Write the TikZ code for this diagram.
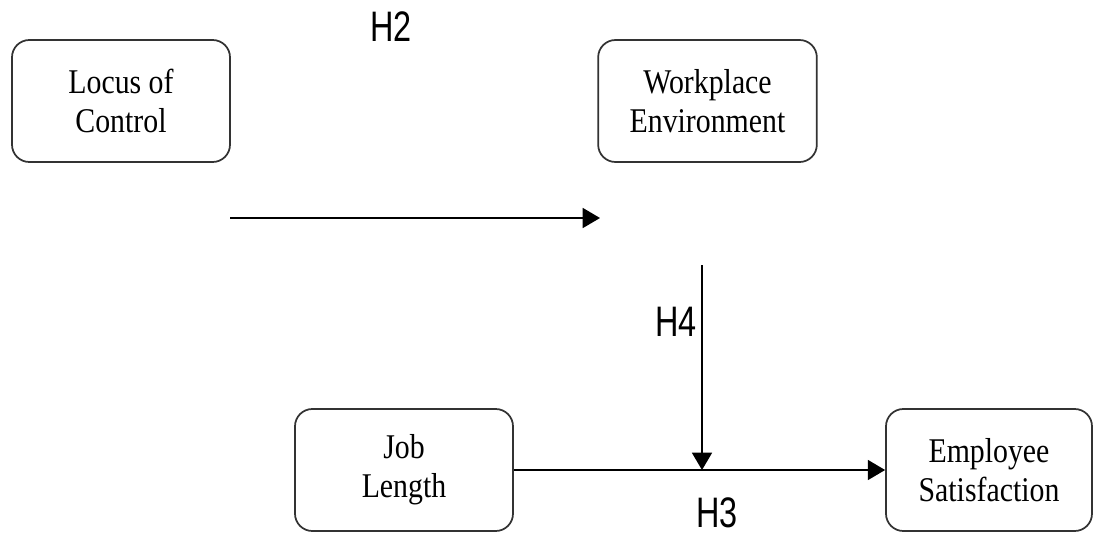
\documentclass[tikz,border=0pt]{standalone}
\usepackage{fontspec}
\setmainfont[FakeStretch=0.86]{Liberation Serif}
\newfontfamily\hfont[FakeStretch=0.76]{Liberation Sans}
\usetikzlibrary{arrows.meta}

\begin{document}
\begin{tikzpicture}[x=0.75pt,y=-0.75pt,
  varbox/.style={draw=black!80,line width=1.3pt,rounded corners=13pt,
    align=center,inner sep=0pt,minimum height=91.5pt,
    font=\fontsize{26}{29}\selectfont},
  hyp/.style={inner sep=0pt,font=\hfont\fontsize{32}{36}\selectfont},
  link/.style={line width=1.3pt,-{Triangle[length=13pt,width=15pt]}}]
  \useasboundingbox (0,0) rectangle (1093,536);
  \node[varbox,minimum width=163.5pt] (loc) at (121,101) {Locus of\\Control};
  \node[varbox,minimum width=164pt] (wpe) at (707.5,101) {Workplace\\Environment};
  \node[varbox,minimum width=163.5pt] (job) at (404,470) {Job\\Length};
  \node[varbox,minimum width=154.5pt] (emp) at (989,470) {Employee\\Satisfaction};
  \coordinate (h2start) at (230,218);
  \coordinate (h2end) at (600,218);
  \coordinate (h4top) at (702,265);
  \node[hyp] (h2) at (391,27) {H2};
  \node[hyp] (h4) at (676,322) {H4};
  \node[hyp] (h3) at (717,513) {H3};
  \draw[link] (h2start) -- (h2end);
  \draw[link] (job.east) -- (emp.west);
  \draw[link] (h4top) -- (h4top |- job.east);
\end{tikzpicture}
\end{document}
